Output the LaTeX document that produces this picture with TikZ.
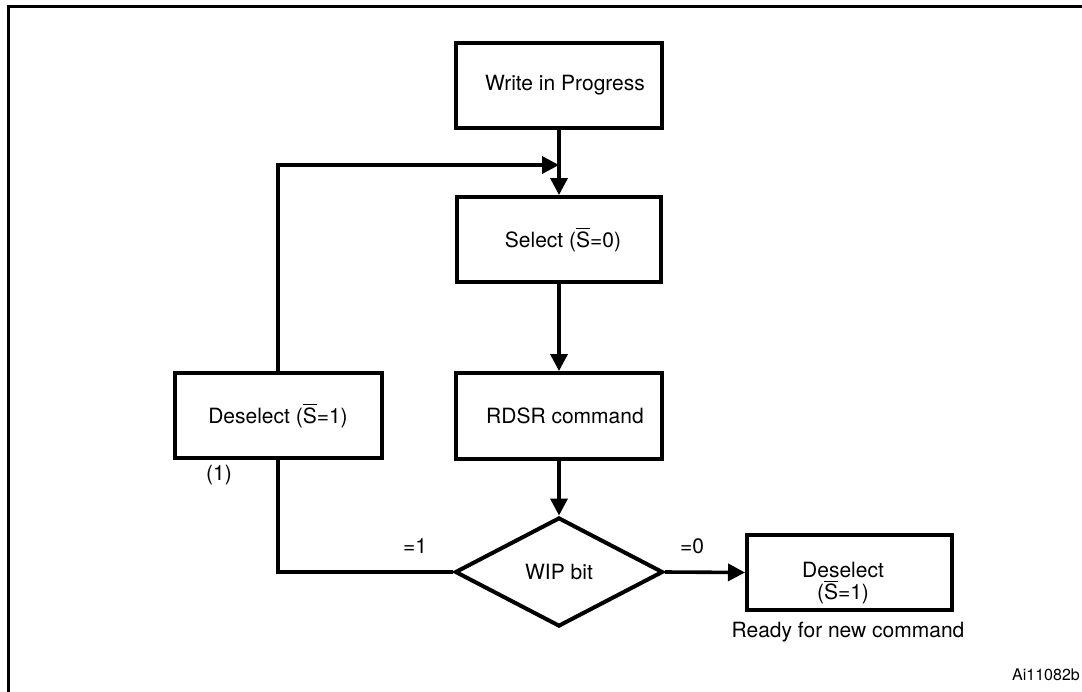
\documentclass[tikz,border=0pt]{standalone}
\usepackage{fontspec}
\setmainfont{TeX Gyre Heros}
\usetikzlibrary{shapes.geometric, arrows.meta, positioning, calc}
\newcommand{\sbar}{$\overline{\mbox{S}}$}
\tikzset{
  box/.style      = {draw=black, line width=2pt, rectangle, align=center,
                     inner sep=2pt, font=\fontsize{10.5}{12}\selectfont},
  decide/.style   = {draw=black, line width=2pt, diamond, inner sep=0pt,
                     font=\fontsize{10.5}{12}\selectfont},
  flow/.style     = {-{Triangle[length=8.5pt,width=8.5pt]}, draw=black, line width=1.8pt},
  wire/.style     = {draw=black, line width=1.8pt},
  note/.style     = {font=\fontsize{10.5}{12}\selectfont, inner sep=0pt},
  tag/.style      = {font=\fontsize{8}{9}\selectfont, inner sep=0pt},
}

\begin{document}
\begin{tikzpicture}[x=0.5pt, y=-0.5pt]
  \useasboundingbox (0,0) rectangle (1082,691);
  % frame
  \draw[line width=1.5pt] (8,700) -- (8,6) -- (1090,6);

  % main column
  \node[box, minimum width=103pt, minimum height=42.5pt] (wip) at (559,85.5) {\hspace*{6pt}Write in Progress};
  \node[box, minimum width=102pt, minimum height=42.5pt] (sel) at (559,239.5) {\hspace*{4pt}Select (\sbar=0)};
  \node[box, minimum width=103pt, minimum height=43pt] (rdsr) at (559,416) {\hspace*{6pt}RDSR command};
  \node[decide, minimum width=104pt, minimum height=54.5pt] (bit) at (559,572) {WIP bit};
  \coordinate (merge) at (559,165);
  \draw[flow] (wip.south) -- (sel.north);
  \draw[flow] (sel.south) -- (rdsr.north);
  \draw[flow] (rdsr.south) -- (bit.north);

  % loop back
  \node[box, minimum width=103.5pt, minimum height=42.5pt] (desl) at (278,415.5) {Deselect (\sbar=1)};
  \node[note] (one) at (219,475) {(1)};
  \draw[wire] (bit.west) -| (desl.south);
  \draw[flow] (desl.north) |- (merge);
  \node[note] (eqone) at (415,546) {=1};

  % exit
  \node[box, minimum width=102.5pt, minimum height=37.5pt] (desr) at (849.5,572.5) {};
  \node[note, align=center, font=\fontsize{10.5}{10}\selectfont] (desrtext) at (843,583) {Deselect\\(\sbar=1)};
  \draw[flow] (bit.east) -- (desr.west);
  \node[note] (eqzero) at (692,546) {=0};
  \node[note] (ready) at (848,632) {Ready for new command};

  \node[tag] (fig) at (1046,675) {Ai11082b};
\end{tikzpicture}
\end{document}
